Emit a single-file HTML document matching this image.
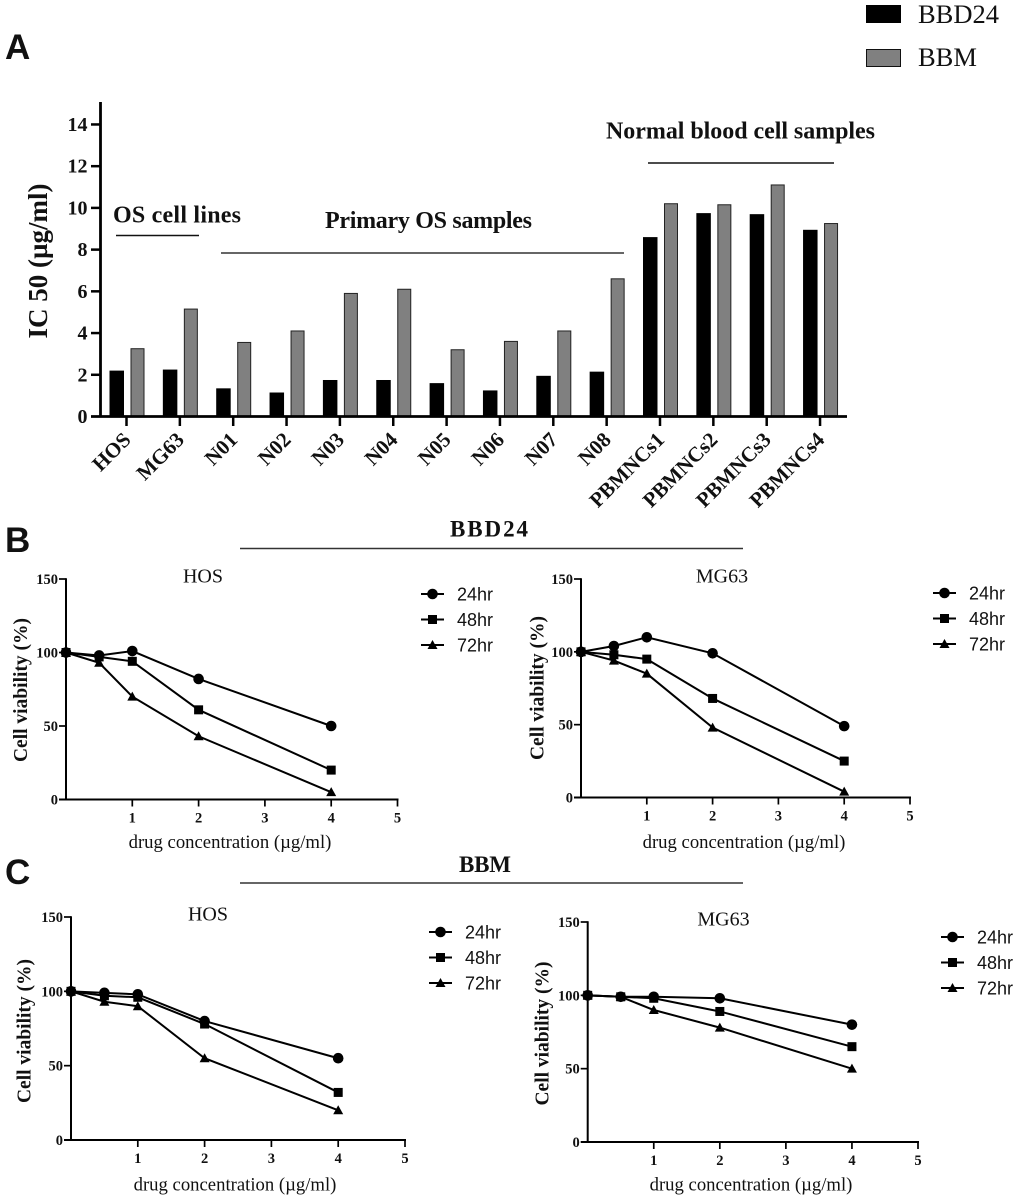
<!DOCTYPE html>
<html lang="en">
<head>
<meta charset="utf-8">
<title>IC50 and cell viability figure</title>
<style>
html,body{margin:0;padding:0;background:#fff;}
svg{display:block;}
text{font-family:"Liberation Serif",serif;fill:#111;}
.sans{font-family:"Liberation Sans",sans-serif;}
.b{font-weight:bold;}
</style>
</head>
<body>
<svg id="figure" width="1020" height="1201" viewBox="0 0 1020 1201" xmlns="http://www.w3.org/2000/svg">
  <rect x="0" y="0" width="1020" height="1201" fill="#fff"/>

  <text class="sans b" x="5" y="59" font-size="35">A</text>
  <text class="sans b" x="5" y="552" font-size="35">B</text>
  <text class="sans b" x="5" y="884" font-size="35">C</text>

  <rect x="866" y="5" width="35" height="18" fill="#000"/>
  <text x="918" y="23" font-size="26.5">BBD24</text>
  <rect x="866.5" y="49.5" width="34" height="17" fill="#808080" stroke="#111" stroke-width="1"/>
  <text x="918" y="66" font-size="26.5">BBM</text>

  <text class="b" font-size="27" text-anchor="middle" transform="translate(47,261) rotate(-90)">IC 50 (µg/ml)</text>

  <text class="b" x="113" y="222.5" font-size="24" textLength="128">OS cell lines</text>
  <line x1="116" y1="235.5" x2="199" y2="235.5" stroke="#111" stroke-width="1.4"/>
  <text class="b" x="325" y="228" font-size="24" textLength="207">Primary OS samples</text>
  <line x1="221" y1="253" x2="624" y2="253" stroke="#333" stroke-width="1.6"/>
  <text class="b" x="606" y="138.5" font-size="24" textLength="269">Normal blood cell samples</text>
  <line x1="648" y1="163" x2="834" y2="163" stroke="#111" stroke-width="1.4"/>

  <text class="b" x="450" y="536.5" font-size="23" textLength="78">BBD24</text>
  <line x1="240" y1="548.5" x2="743" y2="548.5" stroke="#333" stroke-width="1.5"/>
  <text class="b" x="459" y="872" font-size="23" textLength="52">BBM</text>
  <line x1="240" y1="883" x2="743" y2="883" stroke="#333" stroke-width="1.5"/>

  <g id="bar-chart"></g>
  <g id="line-b-hos"></g>
  <g id="line-b-mg63"></g>
  <g id="line-c-hos"></g>
  <g id="line-c-mg63"></g>
</svg>

<script>
// ---- Bar chart data ----
const barCategories = ['HOS','MG63','N01','N02','N03','N04','N05','N06','N07','N08','PBMNCs1','PBMNCs2','PBMNCs3','PBMNCs4'];
const bbd24Values = [2.2,2.25,1.35,1.15,1.75,1.75,1.6,1.25,1.95,2.15,8.6,9.75,9.7,8.95];
const bbmValues = [3.25,5.15,3.55,4.1,5.9,6.1,3.2,3.6,4.1,6.6,10.2,10.15,11.1,9.25];
const barYTicks = [0,2,4,6,8,10,12,14];

// ---- Line chart data ----
const doseValues = [0,0.5,1,2,4];
const doseTicks = [1,2,3,4,5];
const viabilityTicks = [0,50,100,150];
const seriesNames = ['24hr','48hr','72hr'];

const bbd24Hos24 = [100,98,101,82,50];
const bbd24Hos48 = [100,97,94,61,20];
const bbd24Hos72 = [100,93,70,43,5];

const bbd24Mg24 = [100,104,110,99,49];
const bbd24Mg48 = [100,98,95,68,25];
const bbd24Mg72 = [100,94,85,48,4];

const bbmHos24 = [100,99,98,80,55];
const bbmHos48 = [100,97,96,78,32];
const bbmHos72 = [100,93,90,55,20];

const bbmMg24 = [100,99,99,98,80];
const bbmMg48 = [100,99,98,89,65];
const bbmMg72 = [100,99,90,78,50];

const NS = 'http://www.w3.org/2000/svg';
function make(parent, tag, props, txt) {
  const node = document.createElementNS(NS, tag);
  for (const k in props) node.setAttribute(k, props[k]);
  if (txt !== undefined) node.textContent = txt;
  parent.appendChild(node);
  return node;
}

// ---- Bar chart ----
(function () {
  const g = document.getElementById('bar-chart');
  const y = v => 416.5 - v * 20.86;
  const xc = i => 126.5 + i * 53.35;

  barCategories.forEach((cat, i) => {
    const h1 = make(g, 'rect', {x: xc(i) - 17, y: y(bbd24Values[i]), width: 14.5, height: 416.5 - y(bbd24Values[i]), fill: '#000'});
    
    
    const h2 = make(g, 'rect', {x: xc(i) + 4.5, y: y(bbmValues[i]), width: 13, height: 416.5 - y(bbmValues[i]), fill: '#808080', stroke: '#222', 'stroke-width': 1});
    
    

    const t = make(g, 'line', {x1: xc(i), x2: xc(i), y1: 416, y2: 426, stroke: '#000', 'stroke-width': 2.5});
    
    
    const l = make(g, 'text', {'text-anchor': 'end', 'font-size': 21, 'font-weight': 'bold', transform: 'translate(' + (xc(i) + 5.5) + ',441) rotate(-45)'}, cat);
    
    
  });

  barYTicks.forEach(v => {
    if (v > 0) {
      const t = make(g, 'line', {x1: 91, x2: 100, y1: y(v), y2: y(v), stroke: '#000', 'stroke-width': 2.5});
      
      
    }
    const l = make(g, 'text', {x: 87.5, y: y(v) + 6.5, 'text-anchor': 'end', 'font-size': 20, 'font-weight': 'bold'}, v);
    
    
  });

  const ay = make(g, 'line', {x1: 100.5, x2: 100.5, y1: 102, y2: 417, stroke: '#000', 'stroke-width': 2.8});
  
  
  const ax = make(g, 'line', {x1: 91, x2: 847, y1: 416.5, y2: 416.5, stroke: '#000', 'stroke-width': 2.8});
  
  
})();

// ---- Line charts ----
function drawMarker(g, kind, cx, cy) {
  let m;
  if (kind === 0) m = make(g, 'circle', {cx: cx, cy: cy, r: 5.3, fill: '#000'});
  else if (kind === 1) m = make(g, 'rect', {x: cx - 4.5, y: cy - 4.5, width: 9, height: 9, fill: '#000'});
  else m = make(g, 'path', {d: 'M' + (cx - 5) + ' ' + (cy + 4) + 'L' + cx + ' ' + (cy - 5) + 'L' + (cx + 5) + ' ' + (cy + 4) + 'Z', fill: '#000'});
  return m;
}

function drawLinePanel(id, o, series) {
  const g = document.getElementById(id);
  const x = v => o.x0 + v * (o.x5 - o.x0) / 5;
  const y = v => o.y0 - v * (o.y0 - o.y150) / 150;

  // axes
  const ay = make(g, 'line', {x1: o.x0, x2: o.x0, y1: o.y150 - 0.7, y2: o.y0 + 0.7, stroke: '#000', 'stroke-width': 2});
  
  
  const ax = make(g, 'line', {x1: o.x0 - 7, x2: x(5) + 1, y1: o.y0, y2: o.y0, stroke: '#000', 'stroke-width': 2});
  
  

  viabilityTicks.forEach(v => {
    if (v > 0) {
      const t = make(g, 'line', {x1: o.x0 - 7, x2: o.x0, y1: y(v), y2: y(v), stroke: '#000', 'stroke-width': 1.7});
      
      
    }
    const l = make(g, 'text', {x: o.x0 - 8, y: y(v) + 5, 'text-anchor': 'end', 'font-size': 14.5, 'font-weight': 'bold'}, v);
    
    
  });

  doseTicks.forEach(v => {
    const t = make(g, 'line', {x1: x(v), x2: x(v), y1: o.y0, y2: o.y0 + 7, stroke: '#000', 'stroke-width': 1.7});
    
    
    const l = make(g, 'text', {x: x(v), y: o.y0 + 23, 'text-anchor': 'middle', 'font-size': 14.5, 'font-weight': 'bold'}, v);
    
    
  });

  const yt = make(g, 'text', {'text-anchor': 'middle', 'font-size': 19.5, 'font-weight': 'bold', transform: 'translate(' + o.yTitleX + ',' + o.yTitleY + ') rotate(-90)'}, 'Cell viability (%)');
  
  
  const xt = make(g, 'text', {x: o.xTitleX, y: o.xTitleY, 'text-anchor': 'middle', 'font-size': 18.7}, 'drug concentration (µg/ml)');
  
  
  const ti = make(g, 'text', {x: o.titleX, y: o.titleY, 'text-anchor': 'middle', 'font-size': 20}, o.title);
  
  

  // series (drawn last series first, so circles sit on top)
  for (let s = series.length - 1; s >= 0; s--) {
    const pts = doseValues.map((d, i) => x(d) + ',' + y(series[s][i])).join(' ');
    const ln = make(g, 'polyline', {points: pts, fill: 'none', stroke: '#000', 'stroke-width': 2});
    
    
    doseValues.forEach((d, i) => {
      const m = drawMarker(g, s, x(d), y(series[s][i]));
      
      
    });
  }

  // legend
  seriesNames.forEach((name, s) => {
    const ly = o.legY + s * 25.5;
    const k = make(g, 'line', {x1: o.legX, x2: o.legX + 23, y1: ly, y2: ly, stroke: '#000', 'stroke-width': 2});
    
    
    const m = drawMarker(g, s, o.legX + 11.5, ly);
    
    
    const l = make(g, 'text', {class: 'sans', x: o.legX + 36, y: ly + 6.5, 'font-size': 18}, name);
    
    
  });
}

drawLinePanel('line-b-hos', {x0: 66, x5: 397.5, y0: 799.5, y150: 579, title: 'HOS', titleX: 203, titleY: 582.5,
  yTitleX: 27, yTitleY: 690, xTitleX: 230, xTitleY: 848, legX: 421, legY: 594}, [bbd24Hos24, bbd24Hos48, bbd24Hos72]);
drawLinePanel('line-b-mg63', {x0: 581, x5: 910, y0: 797.5, y150: 579, title: 'MG63', titleX: 722, titleY: 582.5,
  yTitleX: 543.5, yTitleY: 688, xTitleX: 744, xTitleY: 848, legX: 933, legY: 593}, [bbd24Mg24, bbd24Mg48, bbd24Mg72]);
drawLinePanel('line-c-hos', {x0: 71, x5: 405, y0: 1140, y150: 917, title: 'HOS', titleX: 208, titleY: 920.5,
  yTitleX: 30.5, yTitleY: 1031, xTitleX: 235, xTitleY: 1190.5, legX: 429, legY: 932}, [bbmHos24, bbmHos48, bbmHos72]);
drawLinePanel('line-c-mg63', {x0: 587.7, x5: 918, y0: 1142, y150: 922, title: 'MG63', titleX: 723.5, titleY: 925.5,
  yTitleX: 548.5, yTitleY: 1033.5, xTitleX: 751, xTitleY: 1190.5, legX: 941, legY: 937}, [bbmMg24, bbmMg48, bbmMg72]);
</script>
</body>
</html>
